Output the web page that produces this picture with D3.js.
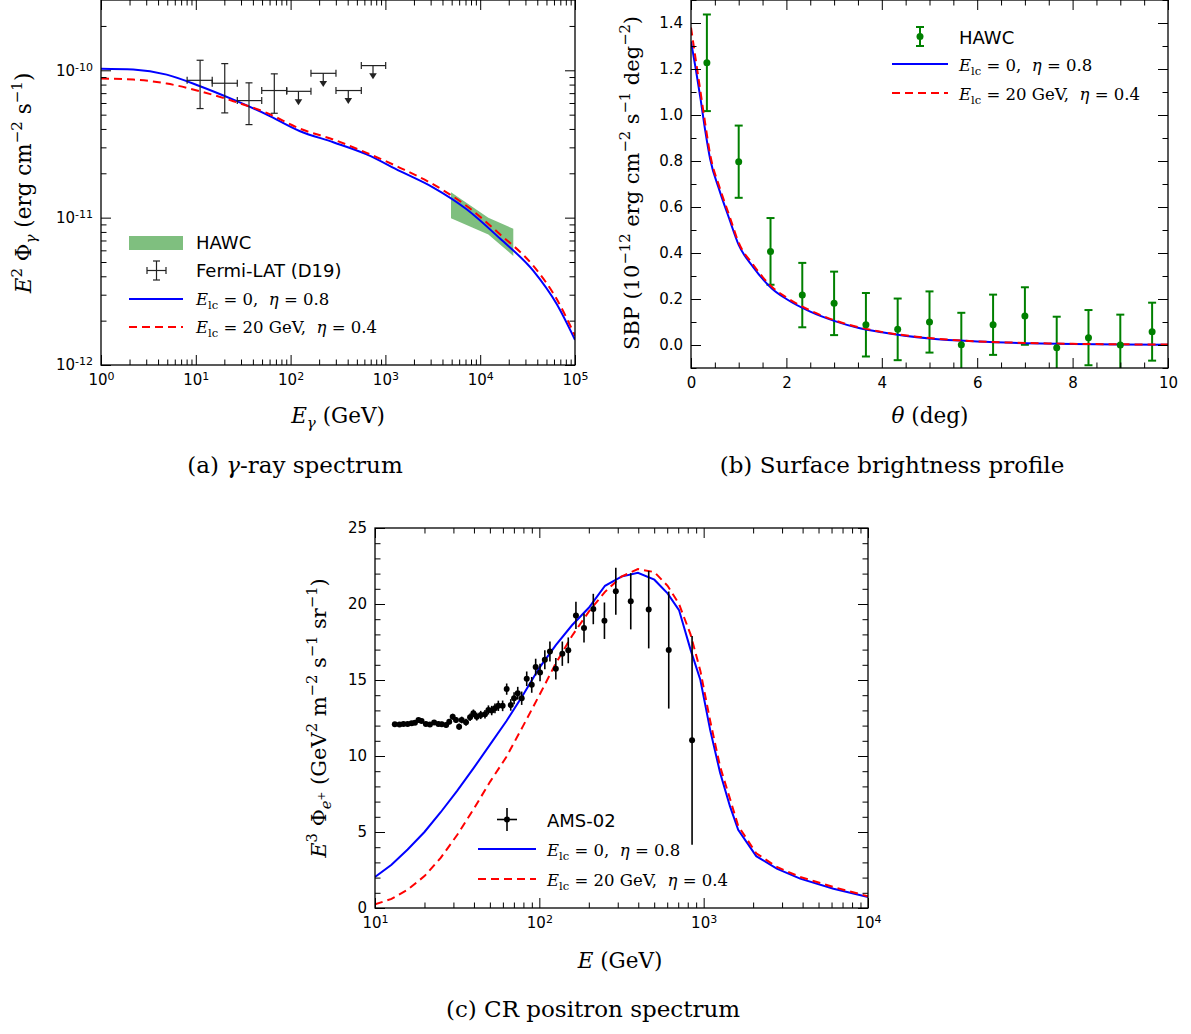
<!DOCTYPE html>
<html>
<head>
<meta charset="utf-8">
<script src="https://cdn.jsdelivr.net/npm/d3@7"></script>
<style>
body { margin: 0; background: #fff; }
svg text { font-family: "DejaVu Sans", sans-serif; white-space: pre; }
svg text.serif { font-family: "DejaVu Serif", "Liberation Serif", serif; }
</style>
</head>
<body>
<svg id="fig" width="1191" height="1034"></svg>
<script>
// ---------- (a) gamma-ray spectrum ----------
const gammaE = [1, 2.19, 4.93, 11.1, 24.9, 56, 126, 282, 634, 1426, 3206, 7194, 16180, 36390, 64120, 100000];
const gammaBlue = [1.026e-10, 1.012e-10, 9.35e-11, 7.80e-11, 6.32e-11, 5.01e-11, 3.86e-11, 3.25e-11, 2.69e-11, 2.07e-11, 1.60e-11, 1.14e-11, 7.21e-12, 4.35e-12, 2.59e-12, 1.48e-12];
const gammaRed = [8.79e-11, 8.65e-11, 8.13e-11, 7.21e-11, 6.17e-11, 5.14e-11, 4.01e-11, 3.39e-11, 2.75e-11, 2.18e-11, 1.68e-11, 1.20e-11, 7.71e-12, 4.70e-12, 2.80e-12, 1.58e-12];

const fermiE = [11.1, 20.2, 36.4, 67.3];
const fermiElo = [8.1, 14.9, 27.4, 49.6];
const fermiEhi = [14.9, 27.4, 49.6, 91];
const fermiF = [8.55e-11, 8.17e-11, 6.23e-11, 7.29e-11];
const fermiFlo = [5.5e-11, 5.14e-11, 4.28e-11, 5.11e-11];
const fermiFhi = [1.17e-10, 1.11e-10, 8.22e-11, 9.46e-11];

const ulE = [121, 221, 406, 740];
const ulElo = [91, 164, 301, 557];
const ulEhi = [164, 301, 557, 1007];
const ulF = [7.2e-11, 9.54e-11, 7.29e-11, 1.076e-10];
const ulTip = [5.8e-11, 7.7e-11, 5.9e-11, 8.7e-11];

const hawcBandE = [4920, 12190, 22340];
const hawcBandHi = [1.49e-11, 1.0e-11, 8.4e-12];
const hawcBandLo = [9.9e-12, 7.7e-12, 5.5e-12];

const gammaXTicks = [1, 10, 100, 1000, 10000, 100000];
const gammaYTicks = [1e-12, 1e-11, 1e-10];

// ---------- (b) surface brightness profile ----------
const sbpTheta = [0.333, 1.0, 1.667, 2.333, 3.0, 3.667, 4.333, 5.0, 5.667, 6.333, 7.0, 7.667, 8.333, 9.0, 9.667];
const sbpHawc = [1.227, 0.797, 0.407, 0.217, 0.181, 0.088, 0.068, 0.100, 0.001, 0.088, 0.126, -0.012, 0.032, 0.000, 0.058];
const sbpErr = [0.21, 0.157, 0.145, 0.14, 0.138, 0.138, 0.134, 0.133, 0.139, 0.131, 0.125, 0.135, 0.12, 0.132, 0.126];

const sbpCurveTheta = [0, 0.1, 0.2, 0.3, 0.4, 0.6, 0.8, 1.0, 1.3, 1.7, 2.0, 2.5, 3.0, 3.5, 4.0, 5.0, 6.0, 7.0, 8.0, 9.0, 10.0];
const sbpBlue = [1.32, 1.20, 1.07, 0.93, 0.81, 0.67, 0.55, 0.435, 0.34, 0.245, 0.20, 0.145, 0.105, 0.075, 0.055, 0.028, 0.015, 0.008, 0.004, 0.002, 0.001];
const sbpRed = [1.38, 1.24, 1.10, 0.96, 0.83, 0.685, 0.565, 0.445, 0.35, 0.252, 0.207, 0.15, 0.108, 0.078, 0.057, 0.030, 0.016, 0.009, 0.005, 0.003, 0.002];

const sbpXTicks = [0, 2, 4, 6, 8, 10];
const sbpYTicks = [0, 0.2, 0.4, 0.6, 0.8, 1.0, 1.2, 1.4];

// ---------- (c) CR positron spectrum ----------
const amsE = [13.2, 14.1, 14.9, 15.8, 16.7, 17.5, 18.4, 19.2, 20.4, 21.6, 22.9, 24.3, 25.5, 27.1, 28.3, 29.7, 31.1, 32.5, 33.7, 35.8, 37.9, 39.7, 41.6, 44.0, 46.7, 49.0, 51.3, 53.7, 56.3, 59.8, 63.3, 67.0, 70.2, 73.9, 78.1, 83.8, 89.9, 95.0, 101, 108, 116, 126, 138, 150, 167, 187, 213, 249, 292, 360, 463, 613, 850];
const amsFlux = [12.09, 12.07, 12.11, 12.11, 12.15, 12.18, 12.37, 12.31, 12.11, 12.07, 12.20, 12.11, 12.09, 12.04, 12.26, 12.59, 12.37, 11.93, 12.37, 12.22, 12.55, 12.81, 12.59, 12.70, 12.75, 13.03, 12.99, 13.14, 13.30, 13.30, 14.40, 13.36, 13.80, 14.13, 13.80, 15.08, 14.68, 15.85, 15.49, 16.33, 16.88, 15.74, 16.73, 16.95, 19.25, 18.42, 19.67, 18.90, 20.84, 20.18, 19.63, 16.97, 11.03];
const amsErr = [0.12, 0.12, 0.12, 0.12, 0.13, 0.13, 0.13, 0.14, 0.14, 0.15, 0.15, 0.16, 0.16, 0.17, 0.18, 0.19, 0.2, 0.21, 0.22, 0.23, 0.24, 0.25, 0.26, 0.27, 0.28, 0.3, 0.31, 0.32, 0.34, 0.35, 0.37, 0.38, 0.4, 0.42, 0.44, 0.48, 0.52, 0.55, 0.58, 0.62, 0.66, 0.7, 0.8, 0.85, 0.9, 0.95, 1.0, 1.2, 1.55, 1.85, 2.55, 3.85, 6.87];

const posE = [10, 12.6, 15.8, 20, 25.1, 31.6, 39.8, 50.1, 63.1, 79.4, 100, 126, 158, 200, 251, 316, 398, 501, 603, 708, 832, 955, 1096, 1259, 1445, 1622, 2089, 2786, 3864, 6166, 10000];
const posBlue = [2.04, 2.85, 3.85, 5.0, 6.3, 7.7, 9.2, 10.75, 12.3, 14.0, 15.8, 17.3, 18.6, 19.75, 21.2, 21.8, 22.05, 21.6, 20.7, 19.6, 17.0, 15.0, 11.7, 8.9, 6.7, 5.15, 3.41, 2.59, 1.93, 1.27, 0.73];
const posRed = [0.24, 0.6, 1.2, 2.1, 3.3, 4.8, 6.5, 8.3, 9.95, 11.95, 14.0, 16.1, 17.9, 19.5, 20.8, 21.8, 22.3, 22.1, 21.2, 20.0, 18.0, 15.6, 12.3, 9.3, 7.2, 5.4, 3.6, 2.70, 2.04, 1.38, 0.77];

const posXTicks = [10, 100, 1000, 10000];
const posYTicks = [0, 5, 10, 15, 20, 25];

const BLUE = '#0000ff', RED = '#ff0000', GREEN = '#008000', BAND = '#7fbf7f';

const svg = d3.select('#fig');

// text with sub/superscripts built from tspans
function rich(t, parts, size) {
    let shift = 0;
    parts.forEach(([str, kind = '']) => {
        let target = 0, fs = size;
        if (kind.includes('sup')) { target = -0.42 * size; fs = size * 0.7; }
        if (kind.includes('sub')) { target = 0.22 * size; fs = size * 0.7; }
        if (kind.includes('pl')) { target = -0.05 * size; fs = size * 0.5; }
        const s = t.append('tspan').text(str)
            .attr('dy', target - shift)
            .style('font-size', fs + 'px');
        if (kind.includes('i')) s.style('font-style', 'italic');
        shift = target;
    });
    return t;
}

function label(x, y, parts, size, opts = {}) {
    const t = svg.append('text')
        .attr('class', opts.sans ? null : 'serif')
        .attr('x', x).attr('y', y)
        .attr('text-anchor', opts.anchor || 'middle')
        .attr('fill', '#000');
    if (opts.rotate) t.attr('transform', `rotate(-90,${x},${y})`);
    return rich(t, parts, size);
}

// axes on all four sides, ticks pointing inward
function frame(P, x, y, cfg) {
    const g = svg.append('g');
    const sides = [
        [d3.axisBottom, x, 0, P.y1, cfg.xTicks, cfg.xMinor, true],
        [d3.axisTop, x, 0, P.y0, cfg.xTicks, cfg.xMinor, false],
        [d3.axisLeft, y, P.x0, 0, cfg.yTicks, cfg.yMinor, true],
        [d3.axisRight, y, P.x1, 0, cfg.yTicks, cfg.yMinor, false]
    ];
    sides.forEach(([gen, sc, tx, ty, major, minor, labelled], i) => {
        const isX = i < 2;
        g.append('g').attr('transform', `translate(${tx},${ty})`)
            .call(gen(sc).tickValues(minor).tickSize(-5.5).tickSizeOuter(0).tickFormat(''))
            .call(a => a.select('.domain').remove());
        const fmt = labelled ? (isX ? cfg.xFmt : cfg.yFmt) : (() => '');
        const a = g.append('g').attr('transform', `translate(${tx},${ty})`)
            .call(gen(sc).tickValues(major).tickSize(-10).tickSizeOuter(0).tickPadding(isX ? 9 : 8).tickFormat(fmt));
        a.select('.domain').remove();
        a.selectAll('text').style('font-size', '15px').attr('fill', '#000')
            .style('font-family', '"DejaVu Sans", sans-serif');
        if (labelled && (isX ? cfg.xLog : cfg.yLog)) {
            a.selectAll('.tick text').each(function(d) {
                const t = d3.select(this).text('');
                t.append('tspan').text('10');
                t.append('tspan').text(String(Math.round(Math.log10(d))))
                    .attr('dy', '-0.45em').style('font-size', '11px');
            });
        }
    });
    g.selectAll('line').attr('stroke', '#000').attr('stroke-width', 1);
    svg.append('rect')
        .attr('x', P.x0).attr('y', P.y0)
        .attr('width', P.x1 - P.x0).attr('height', P.y1 - P.y0)
        .attr('fill', 'none').attr('stroke', '#000').attr('stroke-width', 1.3);
}

function clip(id, P) {
    svg.append('clipPath').attr('id', id).append('rect')
        .attr('x', P.x0).attr('y', P.y0)
        .attr('width', P.x1 - P.x0).attr('height', P.y1 - P.y0);
    return svg.append('g').attr('clip-path', `url(#${id})`);
}

function logMinor(lo, hi) {
    const out = [];
    for (let e = Math.floor(Math.log10(lo)); e <= Math.ceil(Math.log10(hi)); e++) {
        for (let m = 2; m <= 9; m++) {
            const v = m * Math.pow(10, e);
            if (v > lo && v < hi) out.push(v);
        }
    }
    return out;
}

function drawLine(g, xs, ys, x, y, color, dashed, curve) {
    const line = d3.line().x(d => x(d[0])).y(d => y(d[1])).curve(curve || d3.curveLinear);
    g.append('path')
        .datum(xs.map((v, i) => [v, ys[i]]))
        .attr('d', line)
        .attr('fill', 'none')
        .attr('stroke', color)
        .attr('stroke-width', 2)
        .attr('stroke-dasharray', dashed ? '8,5' : null);
}

function legendLine(x0, x1, y, color, dashed) {
    svg.append('line').attr('x1', x0).attr('x2', x1).attr('y1', y).attr('y2', y)
        .attr('stroke', color).attr('stroke-width', 2)
        .attr('stroke-dasharray', dashed ? '8,5' : null);
}

function seg(g, s, color, w) {
    g.append('line')
        .attr('x1', s[0]).attr('y1', s[1]).attr('x2', s[2]).attr('y2', s[3])
        .attr('stroke', color).attr('stroke-width', w);
}

const modelA = [['E', 'i'], ['lc', 'sub'], [' = 0,  '], ['η', 'i'], [' = 0.8']];
const modelB = [['E', 'i'], ['lc', 'sub'], [' = 20 GeV,  '], ['η', 'i'], [' = 0.4']];
const MATH = 16.5, SANS = 18, AXL = 21.5, CAP = 23;

// ================= panel (a) =================
{
    const P = { x0: 101, x1: 575, y0: 0, y1: 365 };
    const x = d3.scaleLog().domain([1, 1e5]).range([P.x0, P.x1]);
    const y = d3.scaleLog().domain([1e-12, 3e-10]).range([P.y1, P.y0]);
    const g = clip('clipA', P);

    // HAWC band
    const area = d3.area().x(d => x(d[0])).y0(d => y(d[1])).y1(d => y(d[2]));
    g.append('path')
        .datum(hawcBandE.map((e, i) => [e, hawcBandLo[i], hawcBandHi[i]]))
        .attr('d', area).attr('fill', BAND);

    drawLine(g, gammaE, gammaBlue, x, y, BLUE, false, d3.curveMonotoneX);
    drawLine(g, gammaE, gammaRed, x, y, RED, true, d3.curveMonotoneX);

    // Fermi-LAT points
    const ink = '#222', cap = 3.5;
    fermiE.forEach((e, i) => {
        const cx = x(e), cy = y(fermiF[i]);
        const xl = x(fermiElo[i]), xr = x(fermiEhi[i]);
        const yt = y(fermiFhi[i]), yb = y(fermiFlo[i]);
        [[xl, cy, xr, cy], [cx, yt, cx, yb],
         [xl, cy - cap, xl, cy + cap], [xr, cy - cap, xr, cy + cap],
         [cx - cap, yt, cx + cap, yt], [cx - cap, yb, cx + cap, yb]]
            .forEach(s => seg(g, s, ink, 1.2));
    });
    ulE.forEach((e, i) => {
        const cx = x(e), cy = y(ulF[i]);
        const xl = x(ulElo[i]), xr = x(ulEhi[i]);
        const tip = y(ulTip[i]);
        [[xl, cy, xr, cy], [xl, cy - cap, xl, cy + cap], [xr, cy - cap, xr, cy + cap], [cx, cy, cx, tip - 4]]
            .forEach(s => seg(g, s, ink, 1.2));
        g.append('path')
            .attr('d', `M${cx - 3.8},${tip - 6}L${cx + 3.8},${tip - 6}L${cx},${tip}Z`)
            .attr('fill', ink);
    });

    frame(P, x, y, {
        xTicks: gammaXTicks, yTicks: gammaYTicks,
        xMinor: logMinor(1, 1e5), yMinor: logMinor(1e-12, 3e-10),
        xLog: true, yLog: true
    });

    // legend
    svg.append('rect').attr('x', 129).attr('y', 236).attr('width', 54).attr('height', 14).attr('fill', BAND);
    label(196, 249, [['HAWC']], SANS, { anchor: 'start', sans: true });
    [[147, 270.5, 166, 270.5], [156.5, 261, 156.5, 280], [147, 267, 147, 274], [166, 267, 166, 274],
     [153, 261, 160, 261], [153, 280, 160, 280]].forEach(s => seg(svg, s, '#222', 1.2));
    label(196, 277, [['Fermi-LAT (D19)']], SANS, { anchor: 'start', sans: true });
    legendLine(129, 183, 299, BLUE, false);
    label(196, 305, modelA, MATH, { anchor: 'start' });
    legendLine(129, 183, 327, RED, true);
    label(196, 333, modelB, MATH, { anchor: 'start' });

    label(338, 423, [['E', 'i'], ['γ', 'sub i'], [' (GeV)']], AXL);
    label(31, 183, [['E', 'i'], ['2', 'sup'], [' Φ'], ['γ', 'sub i'], [' (erg cm'], ['−2', 'sup'], [' s'], ['−1', 'sup'], [')']], AXL, { rotate: true });
    label(295, 473, [['(a) '], ['γ', 'i'], ['-ray spectrum']], CAP);
}

// ================= panel (b) =================
{
    const P = { x0: 691, x1: 1168, y0: 0, y1: 368 };
    const x = d3.scaleLinear().domain([0, 10]).range([P.x0, P.x1]);
    const y = d3.scaleLinear().domain([-0.1, 1.5]).range([P.y1, P.y0]);
    const g = clip('clipB', P);

    // error bars
    sbpTheta.forEach((t, i) => {
        const cx = x(t), yt = y(sbpHawc[i] + sbpErr[i]), yb = y(sbpHawc[i] - sbpErr[i]);
        [[cx, yt, cx, yb], [cx - 4, yt, cx + 4, yt], [cx - 4, yb, cx + 4, yb]]
            .forEach(s => seg(g, s, GREEN, 2));
    });

    drawLine(g, sbpCurveTheta, sbpBlue, x, y, BLUE, false, d3.curveMonotoneX);
    drawLine(g, sbpCurveTheta, sbpRed, x, y, RED, true, d3.curveMonotoneX);

    g.selectAll('.pt').data(sbpTheta).enter().append('circle')
        .attr('cx', d => x(d)).attr('cy', (d, i) => y(sbpHawc[i]))
        .attr('r', 3.5).attr('fill', GREEN);

    const minorX = d3.range(0, 10.01, 0.5).filter(v => v % 2 !== 0);
    const minorY = d3.range(-0.1, 1.501, 0.1).filter(v => Math.abs(v * 5 - Math.round(v * 5)) > 1e-6);
    frame(P, x, y, {
        xTicks: sbpXTicks, yTicks: sbpYTicks, xMinor: minorX, yMinor: minorY,
        xFmt: d3.format('d'), yFmt: d3.format('.1f')
    });

    // legend
    [[920, 27, 920, 46], [916, 27, 924, 27], [916, 46, 924, 46]].forEach(s => seg(svg, s, GREEN, 2));
    svg.append('circle').attr('cx', 920).attr('cy', 36.5).attr('r', 3.5).attr('fill', GREEN);
    label(959, 44, [['HAWC']], SANS, { anchor: 'start', sans: true });
    legendLine(892, 948, 64, BLUE, false);
    label(959, 71, modelA, MATH, { anchor: 'start' });
    legendLine(892, 948, 93, RED, true);
    label(959, 100, modelB, MATH, { anchor: 'start' });

    label(930, 423, [['θ', 'i'], [' (deg)']], AXL);
    label(639, 183, [['SBP (10'], ['−12', 'sup'], [' erg cm'], ['−2', 'sup'], [' s'], ['−1', 'sup'], [' deg'], ['−2', 'sup'], [')']], 21, { rotate: true });
    label(892, 473, [['(b) Surface brightness profile']], CAP);
}

// ================= panel (c) =================
{
    const P = { x0: 375, x1: 868, y0: 528, y1: 908 };
    const x = d3.scaleLog().domain([10, 1e4]).range([P.x0, P.x1]);
    const y = d3.scaleLinear().domain([0, 25]).range([P.y1, P.y0]);
    const g = clip('clipC', P);

    drawLine(g, posE, posBlue, x, y, BLUE, false);
    drawLine(g, posE, posRed, x, y, RED, true);

    amsE.forEach((e, i) => {
        seg(g, [x(e), y(amsFlux[i] + amsErr[i]), x(e), y(amsFlux[i] - amsErr[i])], '#000', 1.6);
    });
    g.selectAll('.ams').data(amsE).enter().append('circle')
        .attr('cx', d => x(d)).attr('cy', (d, i) => y(amsFlux[i]))
        .attr('r', 3).attr('fill', '#000');

    frame(P, x, y, {
        xTicks: posXTicks, yTicks: posYTicks,
        xMinor: logMinor(10, 1e4), yMinor: d3.range(1, 25).filter(v => v % 5 !== 0),
        xLog: true, yFmt: d3.format('d')
    });

    // legend
    seg(svg, [497, 819.5, 517, 819.5], '#000', 1.6);
    seg(svg, [507, 808, 507, 831], '#000', 1.6);
    svg.append('circle').attr('cx', 507).attr('cy', 819.5).attr('r', 3).attr('fill', '#000');
    label(547, 827, [['AMS-02']], SANS, { anchor: 'start', sans: true });
    legendLine(478, 536, 849, BLUE, false);
    label(547, 856, modelA, MATH, { anchor: 'start' });
    legendLine(478, 536, 879, RED, true);
    label(547, 886, modelB, MATH, { anchor: 'start' });

    label(620, 968, [['E', 'i'], [' (GeV)']], AXL);
    label(326, 718, [['E', 'i'], ['3', 'sup'], [' Φ'], ['e', 'sub i'], ['+', 'pl'], [' (GeV'], ['2', 'sup'], [' m'], ['−2', 'sup'], [' s'], ['−1', 'sup'], [' sr'], ['−1', 'sup'], [')']], 21, { rotate: true });
    label(593, 1017, [['(c) CR positron spectrum']], CAP);
}
</script>
</body>
</html>
